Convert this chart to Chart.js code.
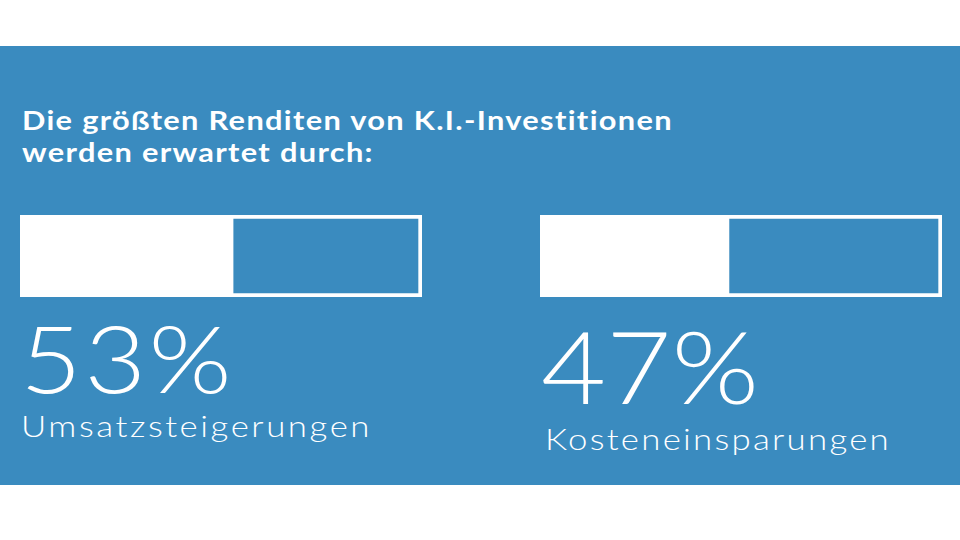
<!DOCTYPE html>
<html>
<head>
<meta charset="utf-8">
<script src="https://cdn.jsdelivr.net/npm/chart.js@4"></script>
<style>
  body { margin: 0; width: 960px; height: 540px; background: #fff; position: relative; overflow: hidden; font-family: Lato, sans-serif; }
  #panel { position: absolute; left: 0; top: 46px; width: 960px; height: 439px; background: #3a8bbf; }
  #title { position: absolute; left: 22px; top: 104px; color: #fff; font-weight: 700; font-size: 27px; line-height: 32px; white-space: nowrap; }
  .bar { position: absolute; width: 402px; height: 82px; top: 215px; }
  .pct { position: absolute; color: #fff; font-weight: 300; line-height: 0.8; white-space: nowrap; }
  .cat { position: absolute; color: #fff; font-weight: 300; font-size: 29px; line-height: 1; white-space: nowrap; }
</style>
</head>
<body>
<div id="panel"></div>
<div id="title">Die größten Renditen von K.I.-Investitionen<br>werden erwartet durch:</div>
<div class="bar" style="left:20px"><canvas id="bar-1"></canvas></div>
<div class="bar" style="left:540px"><canvas id="bar-2"></canvas></div>
<div class="pct" id="pct-1" style="left:20px; top:321px; font-size:92px"></div>
<div class="pct" id="pct-2" style="left:541px; top:325px; font-size:100px"></div>
<div class="cat" id="cat-1" style="left:21px; top:411px"></div>
<div class="cat" id="cat-2" style="left:545px; top:424px"></div>
<script>
const categories = ["Umsatzsteigerungen", "Kosteneinsparungen"];
const shares = [53, 47];
const track = [100, 100];
const blue = "#3a8bbf";

// the original uses a wide geometric face: stretch a bit, then space the rest
const fitText = (id, width, maxStretch, chars) => {
  const el = document.getElementById(id);
  const w = el.getBoundingClientRect().width;
  const n = chars || el.textContent.length;
  const s = Math.min(width / w, maxStretch);
  el.style.transformOrigin = "0 0";
  el.style.transform = "scaleX(" + s + ")";
  el.style.letterSpacing = (width / s - w) / n + "px";
};

const makeBar = (id, i) => {
  new Chart(document.getElementById(id), {
    type: "bar",
    data: {
      labels: [categories[i]],
      datasets: [
        {
          label: "Anteil",
          data: [shares[i]],
          backgroundColor: "#ffffff",
          borderWidth: 0,
          order: 0,
        },
        {
          label: "Gesamt",
          data: [track[i]],
          backgroundColor: blue,
          borderColor: "#ffffff",
          borderWidth: 4,
          borderSkipped: false,
          order: 1,
        },
      ],
    },
    options: {
      indexAxis: "y",
      responsive: true,
      maintainAspectRatio: false,
      animation: false,
      layout: { padding: 0 },
      datasets: { bar: { grouped: false, barPercentage: 1, categoryPercentage: 1 } },
      scales: {
        x: { display: false, min: 0, max: 100 },
        y: { display: false },
      },
      plugins: { legend: { display: false }, tooltip: { enabled: false } },
    },
  });
  document.getElementById("pct-" + (i + 1)).textContent = shares[i] + "%";
  document.getElementById("cat-" + (i + 1)).textContent = categories[i];
};

makeBar("bar-1", 0);
makeBar("bar-2", 1);

fitText("title", 652, 1.14, 43);
fitText("pct-1", 214, 1.16);
fitText("pct-2", 218, 1.16);
fitText("cat-1", 351, 1.2);
fitText("cat-2", 346, 1.2);
</script>
</body>
</html>
